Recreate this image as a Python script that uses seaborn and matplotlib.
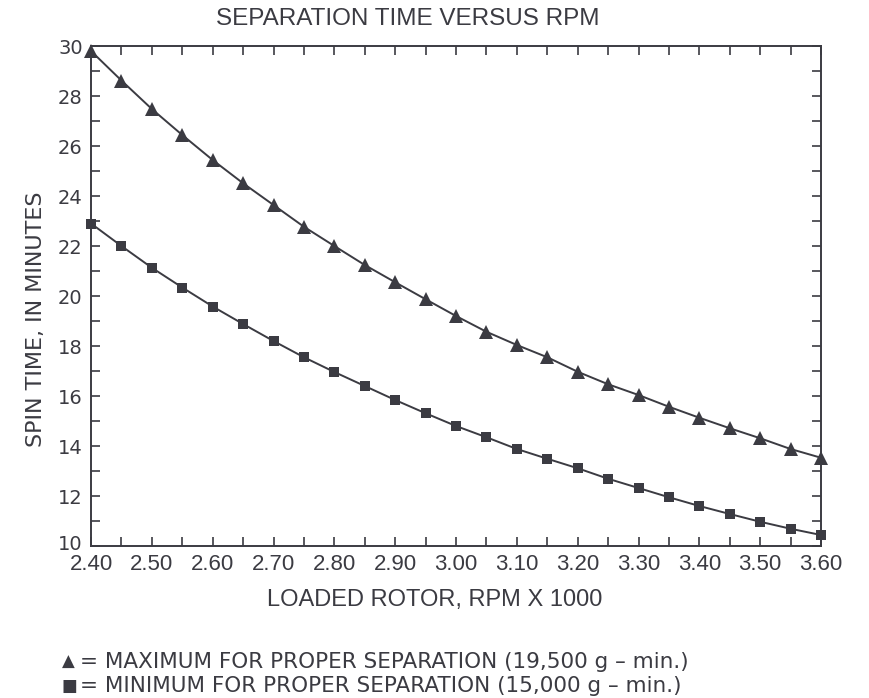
import matplotlib
matplotlib.use("Agg")
import matplotlib.pyplot as plt
import matplotlib.transforms as mtransforms
from matplotlib.ticker import MultipleLocator, FormatStrFormatter
import seaborn as sns
import pandas as pd

# ---- data ----
rpm = [2.40, 2.45, 2.50, 2.55, 2.60, 2.65, 2.70, 2.75, 2.80, 2.85, 2.90, 2.95,
       3.00, 3.05, 3.10, 3.15, 3.20, 3.25, 3.30, 3.35, 3.40, 3.45, 3.50, 3.55, 3.60]
max_time = [29.8, 28.62, 27.48, 26.44, 25.44, 24.51, 23.64, 22.77, 22.0, 21.24,
            20.55, 19.87, 19.2, 18.57, 18.04, 17.55, 16.97, 16.47, 16.04, 15.57,
            15.13, 14.71, 14.31, 13.88, 13.53]
min_time = [22.9, 22.0, 21.13, 20.34, 19.58, 18.88, 18.2, 17.55, 16.96, 16.4,
            15.84, 15.31, 14.8, 14.35, 13.88, 13.49, 13.11, 12.69, 12.32, 11.95,
            11.6, 11.28, 10.97, 10.69, 10.44]

title = "SEPARATION TIME VERSUS RPM"
xlabel = "LOADED ROTOR, RPM X 1000"
ylabel = "SPIN TIME, IN MINUTES"
legend_max = "= MAXIMUM FOR PROPER SEPARATION (19,500 g \u2013 min.)"
legend_min = "= MINIMUM FOR PROPER SEPARATION (15,000 g \u2013 min.)"

df = pd.DataFrame({"rpm": rpm, "max": max_time, "min": min_time})

sns.set_theme(style="white")
ink = "#3b3b42"
plt.rcParams["font.family"] = ["Liberation Sans", "DejaVu Sans"]

fig = plt.figure(figsize=(8.7, 6.98), dpi=100)
fig.patch.set_facecolor("white")
ax = fig.add_axes([91/870, 1-546/698, 730/870, 500/698])
ax.set_facecolor("white")

sns.lineplot(data=df, x="rpm", y="max", ax=ax, color=ink, linewidth=1.4,
             marker="^", markersize=10, markeredgewidth=0, markerfacecolor=ink,
             clip_on=False)
sns.lineplot(data=df, x="rpm", y="min", ax=ax, color=ink, linewidth=1.4,
             marker="s", markersize=7.5, markeredgewidth=0, markerfacecolor=ink,
             clip_on=False)

ax.set_xlim(2.40, 3.60)
ax.set_ylim(10, 30)
ax.xaxis.set_major_locator(MultipleLocator(0.1))
ax.xaxis.set_minor_locator(MultipleLocator(0.05))
ax.yaxis.set_major_locator(MultipleLocator(2))
ax.yaxis.set_minor_locator(MultipleLocator(1))
ax.xaxis.set_major_formatter(FormatStrFormatter("%.2f"))
ax.yaxis.set_major_formatter(FormatStrFormatter("%d"))

for which in ("major", "minor"):
    ax.tick_params(axis="both", which=which, direction="in", length=6.5,
                   width=1.2, color=ink, top=True, right=True,
                   bottom=True, left=True)
ax.tick_params(axis="x", which="major", labelsize=16, labelcolor=ink, pad=6)
ax.tick_params(axis="y", which="major", labelsize=14, labelcolor=ink, pad=6)

fig.canvas.draw()
for lab in ax.get_yticklabels():
    lab.set_family(["DejaVu Sans"])
    if lab.get_text() == "10":
        lab.set_transform(lab.get_transform() +
                          mtransforms.ScaledTranslation(0, 4/100, fig.dpi_scale_trans))

for s in ax.spines.values():
    s.set_visible(True)
    s.set_color(ink)
    s.set_linewidth(1.4)

ax.set_xlabel("")
ax.set_ylabel("")

fig.text(408/870, 1-19/698, title, ha="center", va="center", fontsize=17.5, color=ink)
fig.text(435/870, 1-600/698, xlabel, ha="center", va="center", fontsize=17, color=ink)
fig.text(36/870, 1-319/698, ylabel, ha="center", va="center", rotation=90,
         fontsize=16, color=ink, family=["DejaVu Sans"])

fig.text(62/870, 1-662/698, "\u25b2", ha="left", va="center", fontsize=12,
         color=ink, family=["DejaVu Sans"])
fig.text(80/870, 1-662/698, legend_max, ha="left", va="center", fontsize=15.5,
         color=ink, family=["DejaVu Sans"])
fig.text(62/870, 1-686/698, "\u25a0", ha="left", va="center", fontsize=12,
         color=ink, family=["DejaVu Sans"])
fig.text(80/870, 1-686/698, legend_min, ha="left", va="center", fontsize=15.5,
         color=ink, family=["DejaVu Sans"])

fig.savefig("out.png", dpi=100, facecolor="white")
